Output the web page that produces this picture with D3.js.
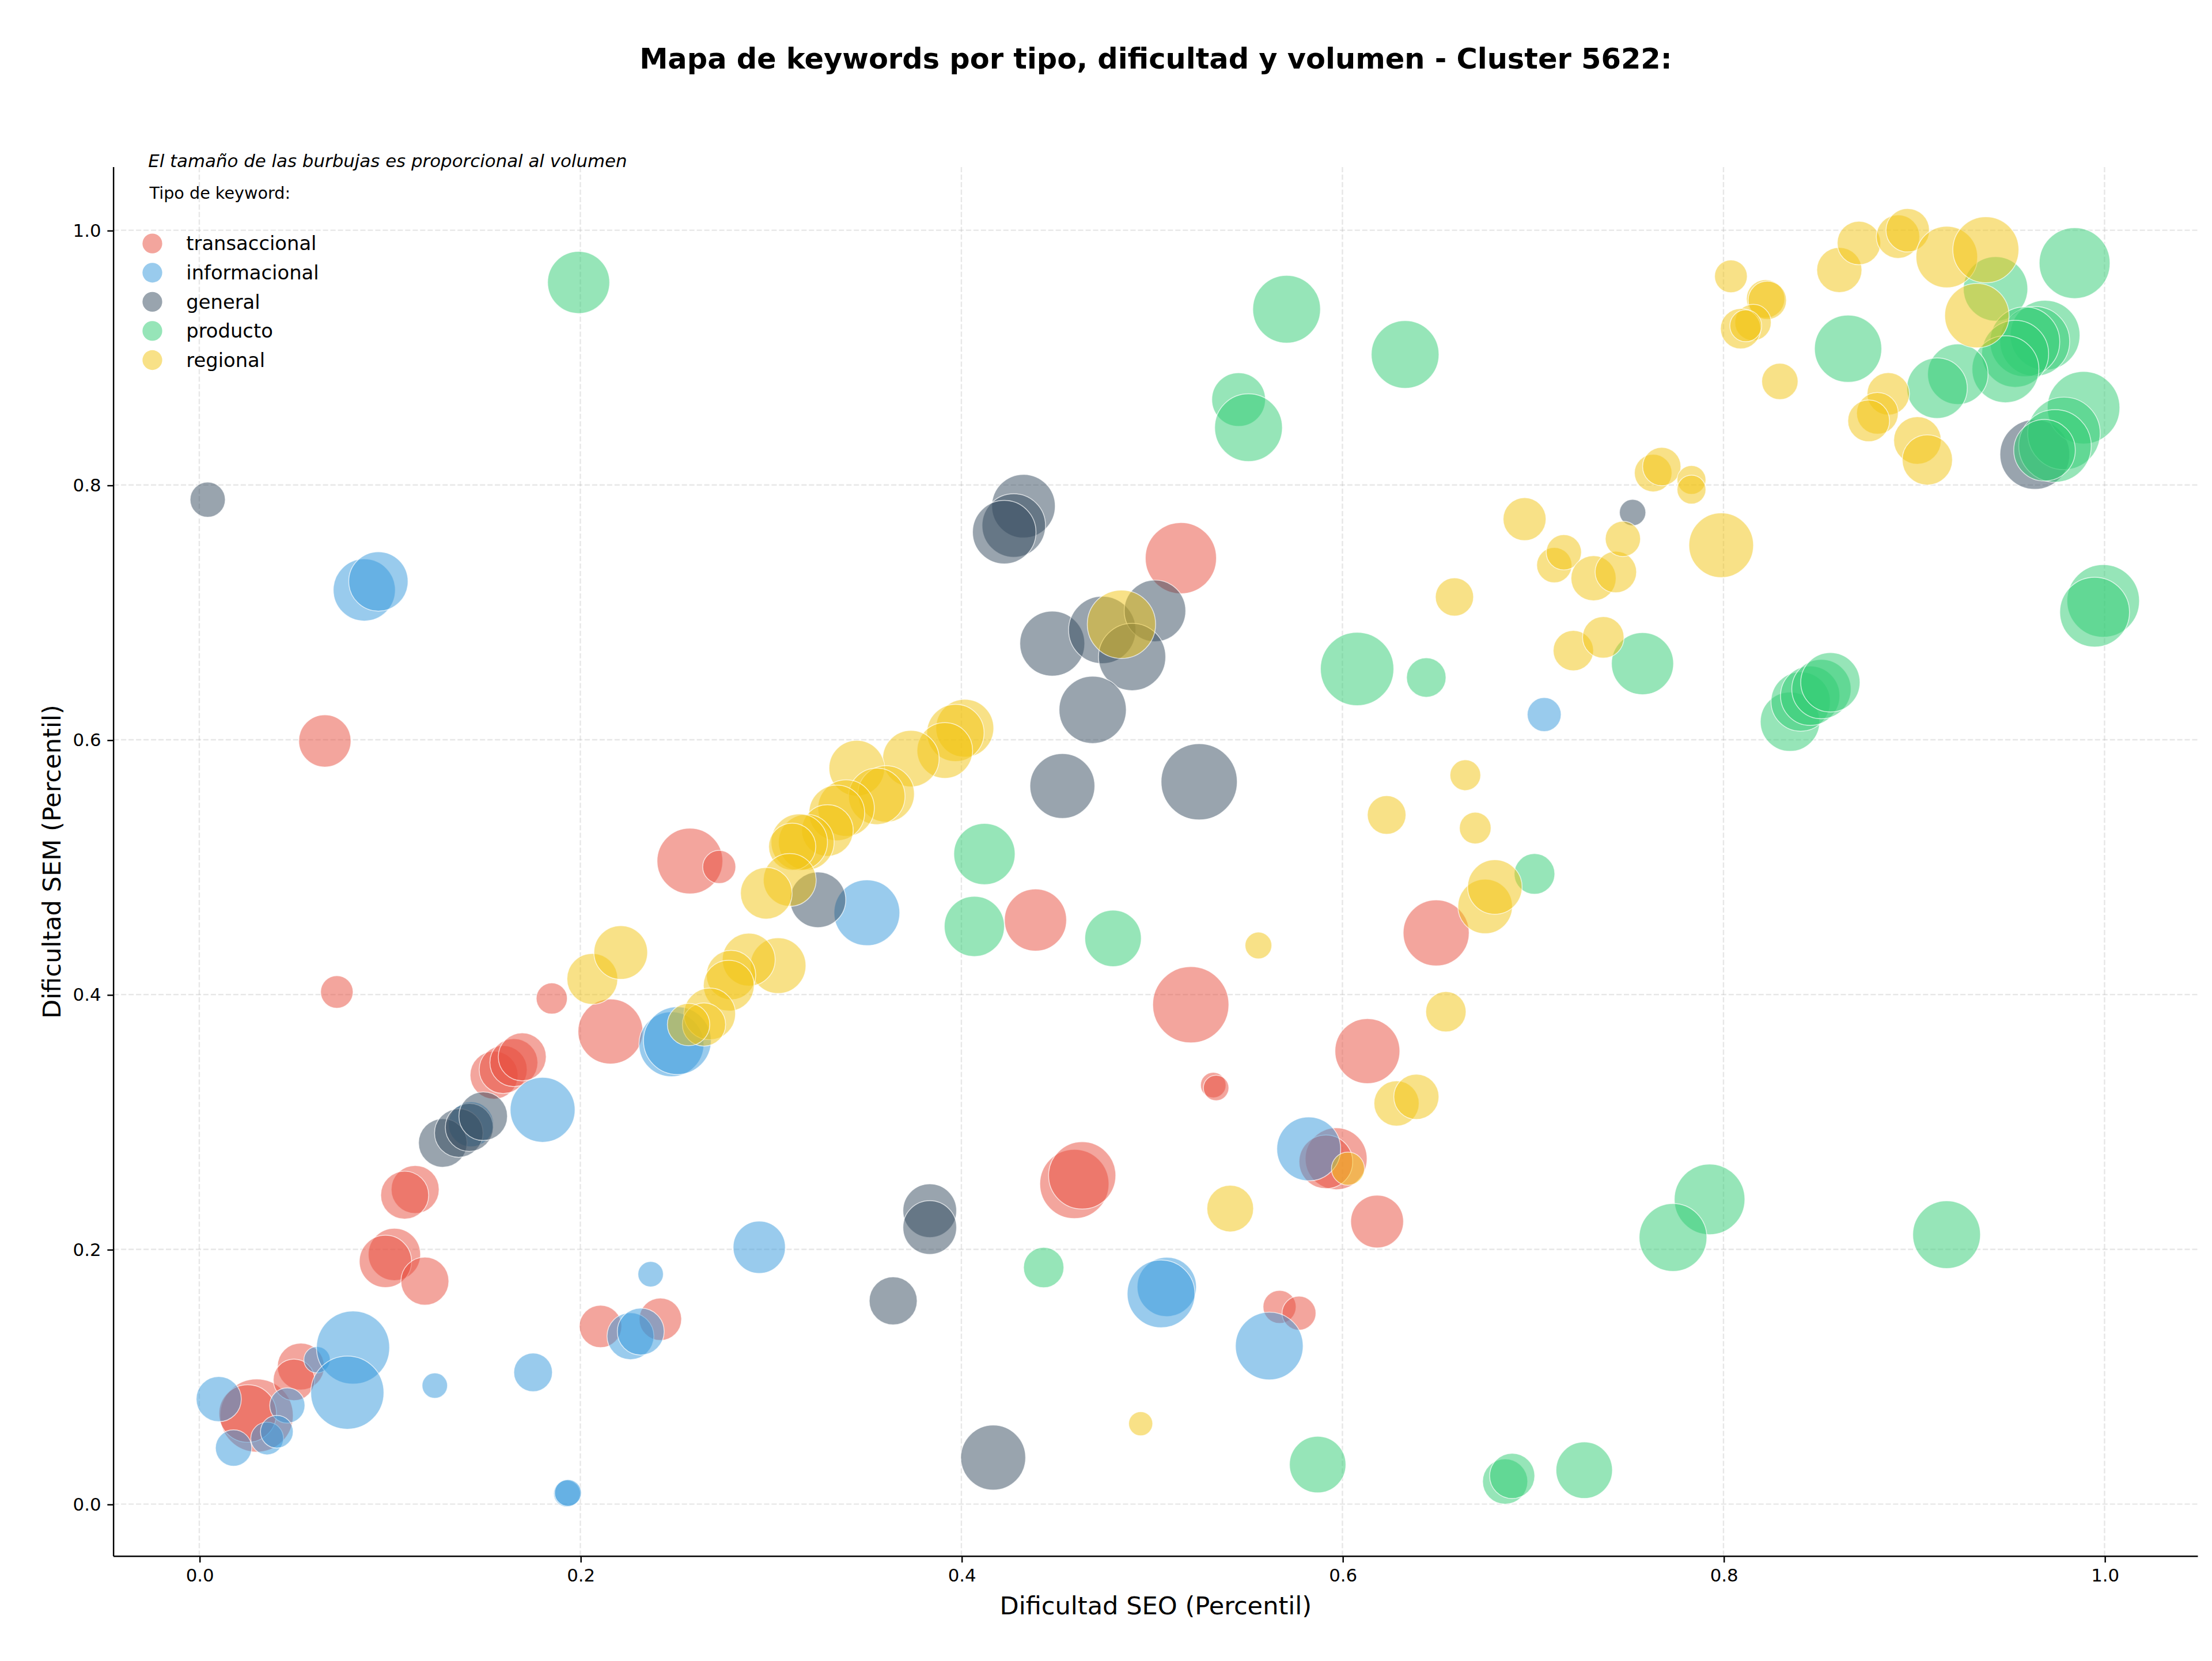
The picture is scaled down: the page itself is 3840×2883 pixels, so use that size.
<!DOCTYPE html>
<html>
<head>
<meta charset="utf-8">
<script src="https://cdn.jsdelivr.net/npm/d3@7/dist/d3.min.js"></script>
<style>
  html, body { margin: 0; padding: 0; background: #fff; overflow: hidden; }
  svg { display: block; }
  text { font-family: "DejaVu Sans", sans-serif; fill: #000; }
</style>
</head>
<body>
<svg id="chart"></svg>
<script>
// keyword rows: [dificultad SEO, dificultad SEM, volumen]
const tipos = ["transaccional", "informacional", "general", "producto", "regional"];

const kwTransaccional = [
  [0.0659, 0.5991, 2400], [0.0722, 0.4020, 930], [0.2575, 0.5048, 3800], [0.2729, 0.5002, 960],
  [0.1850, 0.3969, 850], [0.2158, 0.3710, 3700], [0.1547, 0.3367, 2020], [0.1595, 0.3411, 2020],
  [0.1651, 0.3466, 2020], [0.1695, 0.3511, 2020], [0.1133, 0.2470, 2020], [0.1078, 0.2425, 2020],
  [0.1024, 0.1960, 2400], [0.0977, 0.1905, 2400], [0.1184, 0.1750, 2020], [0.0301, 0.0695, 4700],
  [0.0254, 0.0711, 2910], [0.0533, 0.1080, 1930], [0.0497, 0.0975, 1510], [0.2106, 0.1395, 1580],
  [0.2420, 0.1451, 1580], [0.5152, 0.7426, 4450], [0.4389, 0.4585, 3390], [0.5204, 0.3920, 5100],
  [0.5322, 0.3289, 570], [0.5337, 0.3267, 570], [0.6492, 0.4484, 3830], [0.6131, 0.3556, 3700],
  [0.4593, 0.2513, 4200], [0.4634, 0.2580, 3970], [0.5967, 0.2711, 3360], [0.5913, 0.2687, 2530],
  [0.6182, 0.2218, 2450], [0.5670, 0.1548, 960], [0.5772, 0.1499, 1010]
];

const kwInformacional = [
  [0.0866, 0.7176, 3390], [0.0940, 0.7243, 3090], [0.3504, 0.4642, 3800], [0.2478, 0.3610, 3700],
  [0.2509, 0.3638, 4030], [0.1802, 0.3095, 3700], [0.1426, 0.2982, 1790], [0.0102, 0.0824, 1790],
  [0.0180, 0.0440, 1160], [0.0462, 0.0774, 1090], [0.0356, 0.0515, 940], [0.0407, 0.0568, 940],
  [0.0618, 0.1133, 610], [0.0807, 0.1229, 4700], [0.0777, 0.0875, 4700], [0.1236, 0.0930, 570],
  [0.1752, 0.1034, 1310], [0.2369, 0.1805, 570], [0.2263, 0.1318, 1930], [0.2317, 0.1354, 1930],
  [0.1930, 0.0083, 630], [0.1935, 0.0088, 630], [0.2939, 0.2016, 2400], [0.5078, 0.1705, 3090],
  [0.5048, 0.1650, 4030], [0.5616, 0.1241, 4030], [0.5823, 0.2788, 3580], [0.7059, 0.6198, 1010]
];

const kwGeneral = [
  [0.0044, 0.7885, 1090], [0.3247, 0.4744, 2720], [0.1278, 0.2835, 2070], [0.1362, 0.2913, 2070],
  [0.1417, 0.2957, 2020], [0.1490, 0.3045, 2070], [0.3642, 0.1595, 2020], [0.3834, 0.2303, 2530],
  [0.3834, 0.2171, 2530], [0.4167, 0.0365, 3700], [0.4326, 0.7834, 3540], [0.4275, 0.7682, 3540],
  [0.4225, 0.7630, 3540], [0.4477, 0.6755, 3700], [0.4739, 0.6862, 3970], [0.5016, 0.7012, 3330],
  [0.4896, 0.6650, 3970], [0.4689, 0.6235, 3970], [0.4530, 0.5637, 3700], [0.5248, 0.5670, 5100],
  [0.9634, 0.8240, 4270], [0.7523, 0.7784, 610]
];

const kwProducto = [
  [0.1991, 0.9590, 3390], [0.5707, 0.9380, 4030], [0.6329, 0.9025, 4030], [0.5455, 0.8671, 2530],
  [0.5507, 0.8450, 4030], [0.6077, 0.6556, 4730], [0.6440, 0.6489, 1370], [0.7575, 0.6598, 3390],
  [0.4121, 0.5103, 3300], [0.4068, 0.4535, 3180], [0.4796, 0.4441, 2800], [0.7008, 0.4947, 1450],
  [0.4432, 0.1857, 1430], [0.5870, 0.0310, 2800], [0.6854, 0.0177, 1790], [0.6891, 0.0221, 1790],
  [0.7269, 0.0266, 2800], [0.7927, 0.2392, 4380], [0.7735, 0.2093, 4030], [0.9171, 0.2115, 4030],
  [0.9843, 0.9742, 4410], [0.8654, 0.9070, 3970], [0.9428, 0.9540, 3640], [0.9688, 0.9176, 4270],
  [0.9634, 0.9128, 4270], [0.9582, 0.9124, 4270], [0.9531, 0.9030, 3930], [0.9480, 0.8909, 3930],
  [0.9230, 0.8870, 3210], [0.9121, 0.8760, 3210], [0.9890, 0.8607, 4620], [0.9787, 0.8405, 4620],
  [0.9740, 0.8307, 4620], [0.9685, 0.8273, 3330], [0.9993, 0.7090, 4620], [0.9948, 0.7002, 4270],
  [0.8349, 0.6142, 3090], [0.8405, 0.6300, 3090], [0.8455, 0.6346, 3090], [0.8514, 0.6398, 3090],
  [0.8561, 0.6451, 3090]
];

const kwRegional = [
  [0.2063, 0.4123, 2270], [0.2212, 0.4330, 2530], [0.4018, 0.6091, 2940], [0.3969, 0.6054, 2880],
  [0.3913, 0.5916, 2720], [0.3735, 0.5852, 2800], [0.3451, 0.5777, 2720], [0.3605, 0.5575, 2800],
  [0.3556, 0.5556, 2800], [0.3395, 0.5464, 2800], [0.3346, 0.5426, 2720], [0.3297, 0.5288, 2340],
  [0.3186, 0.5196, 2720], [0.3149, 0.5196, 2800], [0.3112, 0.5161, 1950], [0.3099, 0.4900, 2450],
  [0.2976, 0.4795, 2340], [0.3038, 0.4227, 2720], [0.2884, 0.4274, 2450], [0.2791, 0.4153, 2140],
  [0.2779, 0.4070, 2270], [0.2679, 0.3848, 2340], [0.2649, 0.3765, 1640], [0.2568, 0.3765, 1580],
  [0.4941, 0.0631, 510], [0.5559, 0.4385, 630], [0.5411, 0.2320, 1910], [0.6029, 0.2633, 960],
  [0.6284, 0.3145, 1790], [0.6388, 0.3197, 1790], [0.6543, 0.3865, 1430], [0.6749, 0.4692, 2610],
  [0.6800, 0.4844, 2610], [0.6697, 0.5307, 880], [0.6645, 0.5722, 830], [0.6232, 0.5410, 1310],
  [0.6588, 0.7121, 1280], [0.6956, 0.7732, 1620], [0.7112, 0.7371, 1090], [0.7162, 0.7472, 1090],
  [0.7318, 0.7268, 1790], [0.7435, 0.7317, 1510], [0.7212, 0.6700, 1430], [0.7369, 0.6804, 1510],
  [0.7472, 0.7577, 1090], [0.7631, 0.8094, 1240], [0.7676, 0.8145, 1290], [0.7832, 0.8040, 730],
  [0.7832, 0.7964, 730], [0.7988, 0.7527, 3670], [0.4840, 0.6907, 4100], [0.8039, 0.9638, 940],
  [0.8221, 0.9461, 1290], [0.8230, 0.9450, 1290], [0.8155, 0.9276, 1160], [0.8090, 0.9227, 1430],
  [0.8117, 0.9250, 890], [0.8296, 0.8813, 1160], [0.8608, 0.9688, 1790], [0.8711, 0.9900, 1660],
  [0.8916, 0.9950, 1660], [0.8967, 1.0000, 1660], [0.9172, 0.9790, 3330], [0.9377, 0.9847, 3830],
  [0.9330, 0.9330, 3640], [0.8865, 0.8716, 1580], [0.8808, 0.8563, 1530], [0.8762, 0.8504, 1530],
  [0.9018, 0.8350, 1980], [0.9070, 0.8197, 2220]
];

const xTicks = [0.0, 0.2, 0.4, 0.6, 0.8, 1.0];
const yTicks = [0.0, 0.2, 0.4, 0.6, 0.8, 1.0];
const colores = ["#e74c3c", "#3498db", "#34495e", "#2ecc71", "#f1c40f"];

const titulo = "Mapa de keywords por tipo, dificultad y volumen - Cluster 5622:";
const subtitulo = "El tamaño de las burbujas es proporcional al volumen";

// drawing works in a 1568-wide coordinate system scaled up to the 3840px canvas
const W = 1568, H = 1177.2;
const svg = d3.select("#chart")
  .attr("width", 3840)
  .attr("height", 2883)
  .attr("viewBox", `0 0 ${W} ${H}`)
  .attr("preserveAspectRatio", "none");

const plot = { left: 80.5, right: 1558, top: 118.4, bottom: 1103 };

const xScale = d3.scaleLinear().domain([-0.045, 1.049]).range([plot.left, plot.right]);
const yScale = d3.scaleLinear().domain([-0.041, 1.0496]).range([plot.bottom, plot.top]);
const rScale = d3.scaleSqrt().domain([0, 5103]).range([0, 27]);
const color = d3.scaleOrdinal().domain(tipos).range(colores);

svg.append("rect").attr("width", W).attr("height", H).attr("fill", "#fff");

// grid
const grid = svg.append("g")
  .attr("stroke", "#b0b0b0")
  .attr("stroke-opacity", 0.3)
  .attr("stroke-width", 1)
  .attr("stroke-dasharray", "3.7,1.6");

grid.selectAll(".gx").data(xTicks).join("line")
  .attr("x1", d => xScale(d)).attr("x2", d => xScale(d))
  .attr("y1", plot.top).attr("y2", plot.bottom);

grid.selectAll(".gy").data(yTicks).join("line")
  .attr("x1", plot.left).attr("x2", plot.right)
  .attr("y1", d => yScale(d)).attr("y2", d => yScale(d));

// bubbles, one layer per keyword type
const series = [kwTransaccional, kwInformacional, kwGeneral, kwProducto, kwRegional];

series.forEach((rows, i) => {
  svg.append("g")
    .selectAll("circle")
    .data(rows)
    .join("circle")
    .attr("cx", d => xScale(d[0]))
    .attr("cy", d => yScale(d[1]))
    .attr("r", d => rScale(d[2]))
    .attr("fill", color(tipos[i]))
    .attr("fill-opacity", 0.5)
    .attr("stroke", "#fff")
    .attr("stroke-opacity", 0.7)
    .attr("stroke-width", 0.6);
});

// axes
const fmt = d3.format(".1f");
const xAxis = d3.axisBottom(xScale).tickValues(xTicks).tickFormat(fmt).tickSize(4.4).tickPadding(4.4);
const yAxis = d3.axisLeft(yScale).tickValues(yTicks).tickFormat(fmt).tickSize(4.4).tickPadding(4.4);

const gx = svg.append("g").attr("transform", `translate(0,${plot.bottom})`).call(xAxis);
const gy = svg.append("g").attr("transform", `translate(${plot.left},0)`).call(yAxis);

[gx, gy].forEach(g => {
  g.select(".domain").remove();
  g.selectAll(".tick line").attr("stroke", "#000").attr("stroke-width", 1);
  g.selectAll(".tick text")
    .style("font-family", "DejaVu Sans")
    .style("font-size", "12.6px")
    .attr("fill", "#000");
});

// spines (left and bottom only)
svg.append("line")
  .attr("x1", plot.left).attr("x2", plot.left)
  .attr("y1", plot.top).attr("y2", plot.bottom)
  .attr("stroke", "#000").attr("stroke-width", 1);
svg.append("line")
  .attr("x1", plot.left).attr("x2", plot.right)
  .attr("y1", plot.bottom).attr("y2", plot.bottom)
  .attr("stroke", "#000").attr("stroke-width", 1);

// axis labels
const cx = (plot.left + plot.right) / 2;
svg.append("text")
  .attr("x", cx).attr("y", 1144)
  .attr("text-anchor", "middle")
  .style("font-size", "17.6px")
  .text("Dificultad SEO (Percentil)");

svg.append("text")
  .attr("transform", `translate(43,${(plot.top + plot.bottom) / 2}) rotate(-90)`)
  .attr("text-anchor", "middle")
  .style("font-size", "17.6px")
  .text("Dificultad SEM (Percentil)");

// title
svg.append("text")
  .attr("x", cx).attr("y", 48.5)
  .attr("text-anchor", "middle")
  .style("font-size", "20.2px")
  .style("font-weight", "bold")
  .text(titulo);

// note and legend
svg.append("text")
  .attr("x", 105).attr("y", 118.4)
  .style("font-size", "12.6px")
  .style("font-style", "italic")
  .text(subtitulo);

svg.append("text")
  .attr("x", 106).attr("y", 141)
  .style("font-size", "11.7px")
  .text("Tipo de keyword:");

const legend = svg.append("g");
tipos.forEach((t, i) => {
  const ly = 172.6 + i * 20.65;
  legend.append("circle")
    .attr("cx", 108).attr("cy", ly).attr("r", 7)
    .attr("fill", color(t)).attr("fill-opacity", 0.5);
  legend.append("text")
    .attr("x", 132).attr("y", ly + 4.8)
    .style("font-size", "13.8px")
    .text(t);
});
</script>
</body>
</html>
